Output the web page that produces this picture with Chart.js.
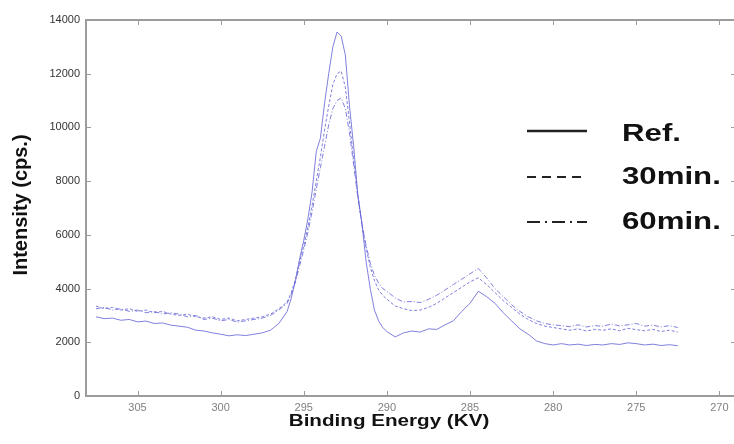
<!DOCTYPE html>
<html>
<head>
<meta charset="utf-8">
<script src="https://cdn.jsdelivr.net/npm/chart.js@4.4.1/dist/chart.umd.min.js"></script>
<style>
  html, body { margin: 0; padding: 0; background: #fff; }
  #wrap { width: 734px; height: 444px; overflow: hidden; position: relative; }
  #xps { display: block; }
</style>
</head>
<body>
<div id="wrap"><canvas id="xps" width="740" height="444"></canvas></div>
<script>
// Binding energy (eV), finer steps across the main peak
const energy = [
  307.5, 307, 306.5, 306, 305.5, 305, 304.5, 304, 303.5, 303, 302.5, 302,
  301.5, 301, 300.5, 300, 299.5, 299, 298.5, 298, 297.5, 297, 296.5, 296,
  295.75, 295.5, 295.25, 295, 294.75, 294.5, 294.25, 294, 293.75, 293.5, 293.25, 293,
  292.75, 292.5, 292.25, 292, 291.75, 291.5, 291.25, 291, 290.75, 290.5, 290.25,
  290, 289.5, 289, 288.5, 288, 287.5, 287, 286.5, 286, 285.5, 285, 284.5,
  284, 283.5, 283, 282.5, 282, 281.5, 281, 280.5, 280, 279.5, 279, 278.5,
  278, 277.5, 277, 276.5, 276, 275.5, 275, 274.5, 274, 273.5, 273, 272.5
];

// Intensity (cps.)
const refCounts = [
  2950, 2880, 2900, 2820, 2850, 2760, 2790, 2700, 2720, 2640, 2600, 2560,
  2450, 2420, 2350, 2300, 2240, 2280, 2250, 2300, 2350, 2450, 2700, 3150,
  3650, 4300, 5100, 5800, 6600, 7600, 9100, 9600, 10900, 12000, 13000, 13550,
  13400, 12700, 10800, 9300, 7500, 6400, 5000, 4000, 3200, 2800, 2550,
  2400, 2200, 2350, 2420, 2380, 2500, 2480, 2650, 2800, 3150, 3450, 3900,
  3700, 3450, 3100, 2800, 2500, 2300, 2050, 1950, 1900, 1950, 1900, 1930,
  1880, 1920, 1900, 1950, 1920, 1980, 1950, 1900, 1930, 1880, 1910, 1870
];

const min30Counts = [
  3350, 3250, 3300, 3200, 3250, 3150, 3200, 3100, 3150, 3050, 3000, 3050,
  2950, 2900, 2950, 2850, 2900, 2800, 2850, 2900, 2950, 3050, 3250, 3500,
  3850, 4350, 5000, 5600, 6300, 7100, 8000, 8900, 9900, 10800, 11600, 12000,
  12100, 11500, 10200, 8800, 7500, 6400, 5500, 4800, 4300, 3950, 3750,
  3600, 3350, 3250, 3180, 3200, 3300, 3450, 3650, 3850, 4050, 4250, 4400,
  4150, 3850, 3550, 3300, 3050, 2850, 2700, 2600, 2550, 2500, 2450, 2500,
  2420, 2480, 2450, 2500, 2430, 2520, 2470, 2430, 2480, 2400, 2450, 2380
];

const min60Counts = [
  3250, 3300, 3200, 3250, 3150, 3200, 3100, 3150, 3050, 3100, 3050, 2950,
  3000, 2850, 2900, 2800, 2850, 2750, 2800, 2850, 2900, 3000, 3200, 3450,
  3800, 4250, 4850, 5450, 6100, 6850, 7700, 8500, 9300, 10100, 10700, 11000,
  11100, 10700, 9800, 8600, 7400, 6400, 5600, 4950, 4500, 4200, 4000,
  3900, 3650, 3500, 3520, 3480, 3600, 3750, 3950, 4150, 4350, 4550, 4750,
  4400, 4000, 3700, 3400, 3150, 2950, 2800, 2700, 2650, 2620, 2580, 2650,
  2570, 2620, 2600, 2680, 2610, 2650, 2700, 2600, 2640, 2570, 2620, 2550
];

const seriesNames = ['Ref.', '30min.', '60min.'];
const xTicks = [305, 300, 295, 290, 285, 280, 275, 270];
const yTicks = [0, 2000, 4000, 6000, 8000, 10000, 12000, 14000];

const FONT = '"Liberation Sans", Arial, sans-serif';
const traceColor = 'rgba(96, 96, 212, 0.8)';

function toPoints(values) {
  return values.map((v, i) => ({ x: energy[i], y: v }));
}

// Box frame with inward tick marks on all four sides
const framePlugin = {
  id: 'frame',
  afterDraw(chart) {
    const { ctx, chartArea: a, scales } = chart;
    ctx.save();
    ctx.strokeStyle = '#9c9c9c';
    ctx.lineWidth = 2;
    ctx.strokeRect(a.left, a.top, a.right - a.left, a.bottom - a.top);
    ctx.lineWidth = 1;
    ctx.beginPath();
    xTicks.forEach(v => {
      const px = Math.round(scales.x.getPixelForValue(v)) + 0.5;
      ctx.moveTo(px, a.bottom); ctx.lineTo(px, a.bottom - 5);
      ctx.moveTo(px, a.top); ctx.lineTo(px, a.top + 5);
    });
    yTicks.forEach(v => {
      const py = Math.round(scales.y.getPixelForValue(v)) + 0.5;
      ctx.moveTo(a.left, py); ctx.lineTo(a.left + 5, py);
      ctx.moveTo(a.right, py); ctx.lineTo(a.right - 5, py);
    });
    ctx.stroke();
    ctx.restore();
  }
};

// Axis titles and the legend block, drawn with wide glyphs
const labelPlugin = {
  id: 'labels',
  afterDraw(chart) {
    const ctx = chart.ctx;
    ctx.save();
    ctx.fillStyle = '#111';
    ctx.textBaseline = 'alphabetic';

    ctx.font = 'bold 16.5px ' + FONT;
    ctx.textAlign = 'center';
    ctx.save();
    ctx.translate(389, 426);
    ctx.scale(1.25, 1);
    ctx.fillText('Binding Energy (KV)', 0, 0);
    ctx.restore();

    ctx.font = 'bold 20px ' + FONT;
    ctx.save();
    ctx.translate(27, 205);
    ctx.rotate(-Math.PI / 2);
    ctx.fillText('Intensity (cps.)', 0, 0);
    ctx.restore();

    const rows = [
      { lineY: 131, baseY: 141, dash: [], width: 2.5 },
      { lineY: 177, baseY: 184, dash: [9, 6], width: 2 },
      { lineY: 222, baseY: 229, dash: [13, 5, 2, 5], width: 2 }
    ];
    ctx.font = 'bold 24px ' + FONT;
    ctx.textAlign = 'left';
    rows.forEach((r, i) => {
      ctx.strokeStyle = '#222';
      ctx.lineWidth = r.width;
      ctx.setLineDash(r.dash);
      ctx.beginPath();
      ctx.moveTo(527, r.lineY);
      ctx.lineTo(587, r.lineY);
      ctx.stroke();
      ctx.save();
      ctx.translate(622, r.baseY);
      ctx.scale(1.3, 1);
      ctx.fillText(seriesNames[i], 0, 0);
      ctx.restore();
    });
    ctx.restore();
  }
};

new Chart(document.getElementById('xps'), {
  type: 'line',
  data: {
    datasets: [
      { label: seriesNames[0], data: toPoints(refCounts), borderColor: traceColor, borderDash: [] },
      { label: seriesNames[1], data: toPoints(min30Counts), borderColor: traceColor, borderDash: [3, 2] },
      { label: seriesNames[2], data: toPoints(min60Counts), borderColor: traceColor, borderDash: [5, 2, 1, 2] }
    ]
  },
  options: {
    responsive: false,
    animation: false,
    layout: { padding: { top: 20, right: 4, left: 0, bottom: 0 } },
    elements: {
      point: { radius: 0 },
      line: { borderWidth: 1, tension: 0, fill: false }
    },
    plugins: {
      legend: { display: false },
      tooltip: { enabled: false }
    },
    scales: {
      x: {
        type: 'linear',
        reverse: true,
        min: 269,
        max: 308.1,
        grid: { display: false, drawTicks: false },
        border: { display: false },
        afterBuildTicks: s => { s.ticks = xTicks.map(v => ({ value: v })); },
        afterFit: s => { s.height = 48; },
        ticks: {
          padding: 5,
          autoSkip: false,
          maxRotation: 0,
          color: '#808080',
          font: { family: FONT, size: 11 },
          callback: value => String(value)
        }
      },
      y: {
        min: 0,
        max: 14000,
        grid: { display: false, drawTicks: false },
        border: { display: false },
        afterBuildTicks: s => { s.ticks = yTicks.map(v => ({ value: v })); },
        afterFit: s => { s.width = 86; },
        ticks: {
          padding: 6,
          color: '#333',
          font: { family: FONT, size: 11 },
          callback: value => String(value)
        }
      }
    }
  },
  plugins: [framePlugin, labelPlugin]
});
</script>
</body>
</html>
